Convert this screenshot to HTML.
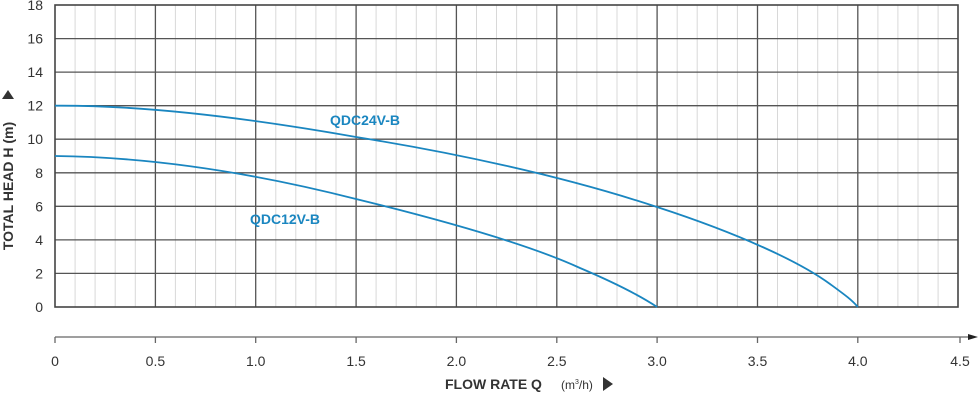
<!DOCTYPE html>
<html><head><meta charset="utf-8"><style>
body{margin:0;background:#fff;}
svg{display:block;font-family:"Liberation Sans",Arial,sans-serif;}
</style></head><body>
<svg width="980" height="412" viewBox="0 0 980 412" xmlns="http://www.w3.org/2000/svg">
<g stroke="#d8d8d8" stroke-width="1">
<line x1="75.1" y1="5" x2="75.1" y2="307"/><line x1="95.1" y1="5" x2="95.1" y2="307"/><line x1="115.2" y1="5" x2="115.2" y2="307"/><line x1="135.3" y1="5" x2="135.3" y2="307"/>
<line x1="175.4" y1="5" x2="175.4" y2="307"/><line x1="195.5" y1="5" x2="195.5" y2="307"/><line x1="215.6" y1="5" x2="215.6" y2="307"/><line x1="235.6" y1="5" x2="235.6" y2="307"/>
<line x1="275.8" y1="5" x2="275.8" y2="307"/><line x1="295.8" y1="5" x2="295.8" y2="307"/><line x1="315.9" y1="5" x2="315.9" y2="307"/><line x1="336" y1="5" x2="336" y2="307"/>
<line x1="376.1" y1="5" x2="376.1" y2="307"/><line x1="396.2" y1="5" x2="396.2" y2="307"/><line x1="416.3" y1="5" x2="416.3" y2="307"/><line x1="436.3" y1="5" x2="436.3" y2="307"/>
<line x1="476.5" y1="5" x2="476.5" y2="307"/><line x1="496.5" y1="5" x2="496.5" y2="307"/><line x1="516.6" y1="5" x2="516.6" y2="307"/><line x1="536.7" y1="5" x2="536.7" y2="307"/>
<line x1="576.8" y1="5" x2="576.8" y2="307"/><line x1="596.9" y1="5" x2="596.9" y2="307"/><line x1="617" y1="5" x2="617" y2="307"/><line x1="637" y1="5" x2="637" y2="307"/>
<line x1="677.2" y1="5" x2="677.2" y2="307"/><line x1="697.2" y1="5" x2="697.2" y2="307"/><line x1="717.3" y1="5" x2="717.3" y2="307"/><line x1="737.4" y1="5" x2="737.4" y2="307"/>
<line x1="777.5" y1="5" x2="777.5" y2="307"/><line x1="797.6" y1="5" x2="797.6" y2="307"/><line x1="817.7" y1="5" x2="817.7" y2="307"/><line x1="837.7" y1="5" x2="837.7" y2="307"/>
<line x1="877.9" y1="5" x2="877.9" y2="307"/><line x1="897.9" y1="5" x2="897.9" y2="307"/><line x1="918" y1="5" x2="918" y2="307"/><line x1="938.1" y1="5" x2="938.1" y2="307"/>
</g>
<g stroke="#555" stroke-width="1.3">
<line x1="155.4" y1="5" x2="155.4" y2="307"/><line x1="255.7" y1="5" x2="255.7" y2="307"/><line x1="356.1" y1="5" x2="356.1" y2="307"/><line x1="456.4" y1="5" x2="456.4" y2="307"/><line x1="556.8" y1="5" x2="556.8" y2="307"/><line x1="657.1" y1="5" x2="657.1" y2="307"/><line x1="757.5" y1="5" x2="757.5" y2="307"/><line x1="857.8" y1="5" x2="857.8" y2="307"/>
<line x1="55" y1="38.6" x2="958" y2="38.6"/><line x1="55" y1="72.1" x2="958" y2="72.1"/><line x1="55" y1="105.7" x2="958" y2="105.7"/><line x1="55" y1="139.2" x2="958" y2="139.2"/><line x1="55" y1="172.8" x2="958" y2="172.8"/><line x1="55" y1="206.3" x2="958" y2="206.3"/><line x1="55" y1="239.9" x2="958" y2="239.9"/><line x1="55" y1="273.4" x2="958" y2="273.4"/>
</g>
<rect x="55" y="5" width="903" height="302" fill="none" stroke="#444" stroke-width="1.6"/>
<g fill="none" stroke="#1a86c0" stroke-width="1.8">
<path d="M55,105.7 C 150,105 260,120 356,137 C 450,152 560,175 657,207 C 740,234 800,262 830,284 C 845,295 852,300 857.8,307"/>
<path d="M55,156 C 150,157 250,172 356,199 C 450,222 530,245 580,268 C 620,285 645,299 657.1,307"/>
</g>
<g font-size="14" fill="#1a86c0" font-weight="bold">
<text x="330" y="125">QDC24V-B</text>
<text x="250" y="224">QDC12V-B</text>
</g>
<g font-size="14" fill="#333" text-anchor="end">
<text x="43" y="10">18</text><text x="43" y="43.6">16</text><text x="43" y="77.1">14</text><text x="43" y="110.7">12</text><text x="43" y="144.2">10</text><text x="43" y="177.8">8</text><text x="43" y="211.3">6</text><text x="43" y="244.9">4</text><text x="43" y="278.4">2</text><text x="43" y="312">0</text>
</g>
<g stroke="#666" stroke-width="1.3">
<line x1="55" y1="337" x2="972" y2="337"/>
<line x1="55" y1="337" x2="55" y2="343"/><line x1="155.4" y1="337" x2="155.4" y2="343"/><line x1="255.7" y1="337" x2="255.7" y2="343"/><line x1="356.1" y1="337" x2="356.1" y2="343"/><line x1="456.4" y1="337" x2="456.4" y2="343"/><line x1="556.8" y1="337" x2="556.8" y2="343"/><line x1="657.1" y1="337" x2="657.1" y2="343"/><line x1="757.5" y1="337" x2="757.5" y2="343"/><line x1="857.8" y1="337" x2="857.8" y2="343"/><line x1="960" y1="337" x2="960" y2="343"/>
</g>
<polygon points="968,334 978,337 968,340" fill="#222"/>
<g font-size="14" fill="#333" text-anchor="middle">
<text x="55" y="366">0</text><text x="155.4" y="366">0.5</text><text x="255.7" y="366">1.0</text><text x="356.1" y="366">1.5</text><text x="456.4" y="366">2.0</text><text x="556.8" y="366">2.5</text><text x="657.1" y="366">3.0</text><text x="757.5" y="366">3.5</text><text x="857.8" y="366">4.0</text><text x="960" y="366">4.5</text>
</g>
<text x="445" y="389" font-size="14" font-weight="bold" fill="#333">FLOW RATE Q</text>
<text x="561" y="389" font-size="12" fill="#333">(m<tspan font-size="7" dy="-5">3</tspan><tspan dy="5">/h)</tspan></text>
<polygon points="603,377 613,384 603,391" fill="#333"/>
<text transform="translate(13,186) rotate(-90)" font-size="14" font-weight="bold" fill="#333" text-anchor="middle">TOTAL HEAD H (m)</text>
<polygon points="2,99 8,90 14,99" fill="#333"/>
</svg>
</body></html>
